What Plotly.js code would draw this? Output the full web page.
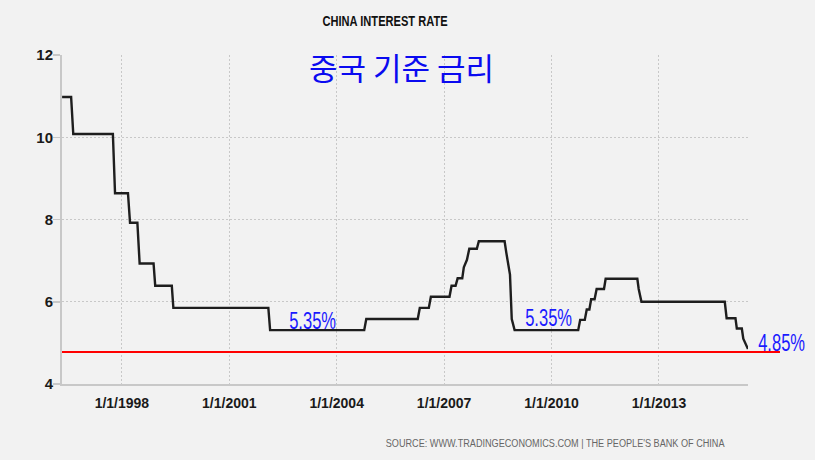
<!DOCTYPE html>
<html>
<head>
<meta charset="utf-8">
<script src="https://cdn.plot.ly/plotly-3.0.1.min.js"></script>
<style>
  html, body { margin: 0; padding: 0; background: #f2f2f2; }
  #chart { width: 815px; height: 460px; }
  /* condensed look of the original lettering */
  #chart text.gtitle { transform-box: fill-box; transform-origin: center; transform: scaleX(0.74); }
  #chart g.annotation[data-index="1"] text,
  #chart g.annotation[data-index="2"] text,
  #chart g.annotation[data-index="3"] text { transform-box: fill-box; transform-origin: center; transform: scaleX(0.72); }
  #chart g.annotation[data-index="4"] text { transform-box: fill-box; transform-origin: right center; transform: scaleX(0.83); }
</style>
</head>
<body>
<div id="chart"></div>
<script>
// ---- data ----
const rateDates = [
  '1996-05-01', '1996-08-01', '1996-08-23', '1997-10-01', '1997-10-23',
  '1998-03-04', '1998-03-25', '1998-06-08', '1998-07-01', '1998-11-20',
  '1998-12-07', '1999-05-25', '1999-06-10', '2002-02-03', '2002-02-21',
  '2004-10-08', '2004-10-29', '2006-04-07', '2006-04-28', '2006-07-29',
  '2006-08-19', '2007-02-25', '2007-03-18', '2007-04-28', '2007-05-19',
  '2007-07-05', '2007-07-21', '2007-08-22', '2007-09-15', '2007-12-01',
  '2007-12-21', '2008-09-09', '2008-09-26', '2008-10-12', '2008-11-03',
  '2008-11-21', '2008-12-20', '2010-09-30', '2010-10-20', '2010-12-06',
  '2010-12-26', '2011-01-22', '2011-02-09', '2011-03-16', '2011-04-06',
  '2011-06-20', '2011-07-07', '2012-05-25', '2012-06-08', '2012-07-06',
  '2014-11-03', '2014-11-22', '2015-02-20', '2015-03-06', '2015-04-26',
  '2015-05-11', '2015-06-28'
];
const rateValues = [
  10.98, 10.98, 10.08, 10.08, 8.64,
  8.64, 7.92, 7.92, 6.93, 6.93,
  6.39, 6.39, 5.85, 5.85, 5.31,
  5.31, 5.58, 5.58, 5.85, 5.85,
  6.12, 6.12, 6.39, 6.39, 6.57,
  6.57, 6.84, 7.02, 7.29, 7.29,
  7.47, 7.47, 7.20, 6.93, 6.66,
  5.58, 5.31, 5.31, 5.56, 5.56,
  5.81, 5.81, 6.06, 6.06, 6.31,
  6.31, 6.56, 6.56, 6.31, 6.00,
  6.00, 5.60, 5.60, 5.35, 5.35,
  5.10, 4.85
];
const tickDates = ['1998-01-01', '2001-01-01', '2004-01-01', '2007-01-01', '2010-01-01', '2013-01-01'];
const tickLabels = ['1/1/1998', '1/1/2001', '1/1/2004', '1/1/2007', '1/1/2010', '1/1/2013'];
const yTicks = [4, 6, 8, 10, 12];
const refLevel = 4.78;          // red reference line (drawn for the 4.85% level)
const lowLabel = '5.35%';
const lastLabel = '4.85%';
const chartTitle = 'CHINA INTEREST RATE';
const koreanTitle = '중국 기준 금리';
const sourceText = "SOURCE: WWW.TRADINGECONOMICS.COM | THE PEOPLE'S BANK OF CHINA";

// ---- styling ----
const sans = 'Liberation Sans, Arial, sans-serif';
const bg = '#f2f2f2';
const axisGray = '#c8c8c8';

const trace = {
  x: rateDates,
  y: rateValues,
  type: 'scatter',
  mode: 'lines',
  line: { color: '#1e1e1e', width: 2.4, shape: 'linear' },
  hoverinfo: 'x+y',
  showlegend: false
};

const layout = {
  width: 815,
  height: 460,
  paper_bgcolor: bg,
  plot_bgcolor: bg,
  margin: { l: 62, r: 67, t: 55, b: 76 },
  title: {
    text: chartTitle,
    x: 385 / 815, xref: 'container', xanchor: 'center',
    y: 1 - 21 / 460, yref: 'container', yanchor: 'middle',
    font: { family: sans, size: 15, color: '#111', weight: 'bold' }
  },
  xaxis: {
    type: 'date',
    range: ['1996-04-30', '2015-06-28'],
    tickvals: tickDates,
    ticktext: tickLabels,
    ticks: '',
    showgrid: true,
    gridcolor: axisGray,
    griddash: '2px,2px',
    gridwidth: 1,
    showline: true,
    linecolor: axisGray,
    linewidth: 2,
    zeroline: false,
    tickfont: { family: sans, size: 14, color: '#1a1a1a', weight: 'bold' },
    ticklabelstandoff: 5
  },
  yaxis: {
    range: [4, 12],
    tickvals: yTicks,
    ticks: 'outside',
    ticklen: 7,
    tickwidth: 1.5,
    tickcolor: axisGray,
    showgrid: true,
    gridcolor: axisGray,
    griddash: '2px,2px',
    gridwidth: 1,
    showline: true,
    linecolor: axisGray,
    linewidth: 2,
    zeroline: false,
    tickfont: { family: sans, size: 15, color: '#1a1a1a', weight: 'bold' },
    ticklabelstandoff: -3
  },
  shapes: [
    {
      type: 'line', xref: 'paper', yref: 'y',
      x0: 0, x1: (780 - 61.7) / 686.3, y0: refLevel, y1: refLevel,
      line: { color: '#ff0000', width: 2 }, layer: 'above'
    }
  ],
  annotations: [
    {
      text: koreanTitle, xref: 'paper', yref: 'paper',
      x: (401 - 61.7) / 686.3, y: (384 - 66) / 329,
      xanchor: 'center', yanchor: 'middle', showarrow: false,
      font: { family: 'Noto Sans CJK KR, sans-serif', size: 31, color: '#0a0af0' }
    },
    {
      text: lowLabel, xref: 'paper', yref: 'paper',
      x: (312.5 - 61.7) / 686.3, y: (384 - 321) / 329,
      xanchor: 'center', yanchor: 'middle', showarrow: false,
      font: { family: sans, size: 23, color: '#1a1aff' }
    },
    {
      text: lowLabel, xref: 'paper', yref: 'paper',
      x: (548.7 - 61.7) / 686.3, y: (384 - 317.5) / 329,
      xanchor: 'center', yanchor: 'middle', showarrow: false,
      font: { family: sans, size: 23, color: '#1a1aff' }
    },
    {
      text: lastLabel, xref: 'paper', yref: 'paper',
      x: (782 - 61.7) / 686.3, y: (384 - 343) / 329,
      xanchor: 'center', yanchor: 'middle', showarrow: false,
      font: { family: sans, size: 23, color: '#1a1aff' }
    },
    {
      text: sourceText, xref: 'paper', yref: 'paper',
      x: (727 - 61.7) / 686.3, y: (384 - 443) / 329,
      xanchor: 'right', yanchor: 'middle', showarrow: false,
      font: { family: sans, size: 11, color: '#666666' }
    }
  ]
};

Plotly.newPlot('chart', [trace], layout, { displayModeBar: false, staticPlot: true });
</script>
</body>
</html>
